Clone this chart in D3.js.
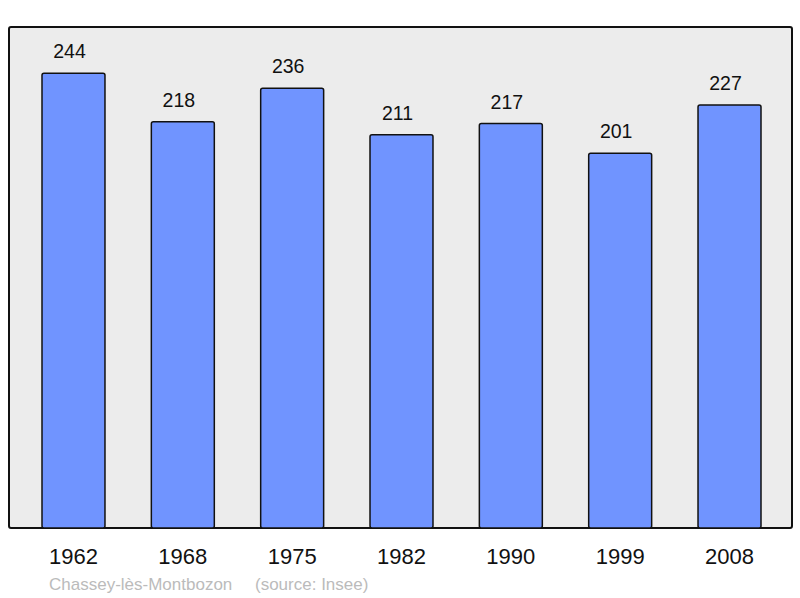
<!DOCTYPE html>
<html>
<head>
<meta charset="utf-8">
<script src="https://cdn.jsdelivr.net/npm/d3@7"></script>
<style>
  body { margin: 0; background: #fff; }
  svg { display: block; }
  text { font-family: "Liberation Sans", Arial, sans-serif; }
</style>
</head>
<body>
<script>
// population data
var years = ["1962", "1968", "1975", "1982", "1990", "1999", "2008"]
var population = [244, 218, 236, 211, 217, 201, 227]
var commune = "Chassey-lès-Montbozon"
var source = "(source: Insee)"

var W = 800, H = 598
var frame = { left: 9, top: 27, right: 792, bottom: 528 }

var svg = d3.select("body").append("svg")
    .attr("width", W)
    .attr("height", H)

// background panel
svg.append("rect")
    .attr("x", frame.left)
    .attr("y", frame.top)
    .attr("width", frame.right - frame.left)
    .attr("height", frame.bottom - frame.top)
    .attr("rx", 2)
    .attr("fill", "#ececec")
    .attr("stroke", "#111")
    .attr("stroke-width", 2)

var x = d3.scaleBand()
    .domain(years)
    .range([42, 761])
    .paddingInner(0.424)
    .paddingOuter(0)

var y = d3.scaleLinear()
    .domain([0, 268.8])
    .range([frame.bottom, frame.top])

var bars = svg.selectAll("g.bar")
    .data(years.map(function (d, i) { return { year: d, value: population[i] } }))
    .enter().append("g")
    .attr("class", "bar")

bars.append("rect")
    .attr("x", d => x(d.year))
    .attr("y", d => y(d.value))
    .attr("width", x.bandwidth())
    .attr("height", d => frame.bottom - y(d.value))
    .attr("rx", 2)
    .attr("fill", "#7094ff")
    .attr("stroke", "#111")
    .attr("stroke-width", 1.5)

bars.append("text")
    .attr("x", d => x(d.year) + x.bandwidth() / 2 - 4)
    .attr("y", d => y(d.value) - 15)
    .attr("text-anchor", "middle")
    .attr("font-size", 19.5)
    .attr("fill", "#111")
    .text(d => d.value)

// year labels
bars.append("text")
    .attr("x", d => x(d.year) + x.bandwidth() / 2)
    .attr("y", 564)
    .attr("text-anchor", "middle")
    .attr("font-size", 22)
    .attr("fill", "#111")
    .text(d => d.year)

svg.append("text")
    .attr("x", 49)
    .attr("y", 590)
    .attr("font-size", 17)
    .attr("fill", "#bbb")
    .text(commune)

svg.append("text")
    .attr("x", 255)
    .attr("y", 590)
    .attr("font-size", 17)
    .attr("fill", "#bbb")
    .text(source)
</script>
</body>
</html>
